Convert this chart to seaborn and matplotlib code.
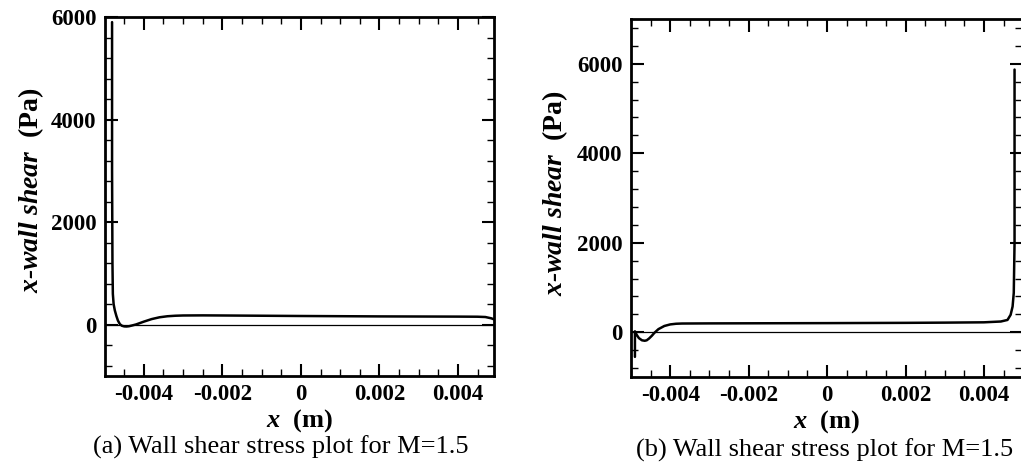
import numpy as np
import pandas as pd
import seaborn as sns
import matplotlib
matplotlib.use("Agg")
import matplotlib.pyplot as plt
from matplotlib.ticker import FixedLocator, MultipleLocator

# ---------------- data ----------------
# (a) wall shear stress, M=1.5
xa = [-0.00481, -0.00481, -0.00480, -0.00479, -0.00477, -0.00474, -0.00470, -0.00466,
      -0.00461, -0.00456, -0.00450, -0.00444, -0.00438, -0.00430, -0.00420, -0.00400,
      -0.00380, -0.00360, -0.00340, -0.00320, -0.00300, -0.00250, -0.00200, -0.00100,
      0.00000, 0.00100, 0.00200, 0.00300, 0.00400, 0.00450, 0.00470, 0.00485, 0.00492]
ya = [5900, 3000, 1200, 600, 400, 280, 170, 80,
      10, -20, -33, -35, -30, -15, 5, 60,
      110, 145, 165, 175, 180, 182, 180, 175,
      170, 166, 162, 160, 158, 156, 150, 125, 105]

# (b) wall shear stress, M=1.5
xb = [-0.00490, -0.00490, -0.00486, -0.00480, -0.00472, -0.00465, -0.00460, -0.00454,
      -0.00447, -0.00440, -0.00430, -0.00415, -0.00400, -0.00385, -0.00370, -0.00300,
      -0.00200, -0.00100, 0.00000, 0.00100, 0.00200, 0.00300, 0.00400, 0.00443,
      0.00460, 0.00468, 0.00473, 0.00476, 0.00478, 0.00478, 0.00478]
yb = [-550, 20, -50, -130, -180, -190, -180, -140,
      -80, -10, 70, 140, 175, 190, 195, 198,
      200, 202, 204, 207, 210, 215, 222, 240,
      275, 390, 575, 880, 2000, 4000, 5870]

x_tick_vals = [-0.004, -0.002, 0.0, 0.002, 0.004]
x_tick_labels = ["-0.004", "-0.002", "0", "0.002", "0.004"]
y_tick_vals = [0, 2000, 4000, 6000]
y_tick_labels = ["0", "2000", "4000", "6000"]
captions = ["(a) Wall shear stress plot for M=1.5", "(b) Wall shear stress plot for M=1.5"]

# ---------------- style ----------------
sns.set_theme(style="white")
plt.rcParams["font.family"] = ["Liberation Serif", "DejaVu Serif"]
plt.rcParams["mathtext.fontset"] = "custom"
plt.rcParams["mathtext.rm"] = "Liberation Serif:bold"
plt.rcParams["mathtext.it"] = "Liberation Serif:italic:bold"
plt.rcParams["mathtext.bf"] = "Liberation Serif:bold"

W, H = 1021, 470
fig = plt.figure(figsize=(W / 100, H / 100), dpi=100)


def box(l, t, r, b):
    return [l / W, 1 - b / H, (r - l) / W, (b - t) / H]


axa = fig.add_axes(box(105, 17, 494, 376))
axb = fig.add_axes(box(631, 19, 1022, 377))

panels = [
    (axa, xa, ya, (-0.00499, 0.00492), (-1000, 6000)),
    (axb, xb, yb, (-0.00500, 0.00497), (-1000, 7000)),
]

for ax, x, y, xlim, ylim in panels:
    df = pd.DataFrame({"x": x, "y": y})
    sns.lineplot(data=df, x="x", y="y", ax=ax, color="black", lw=1.8,
                 sort=False, estimator=None)
    ax.axhline(0, color="black", lw=0.9)
    ax.set_xlim(*xlim)
    ax.set_ylim(*ylim)
    ax.xaxis.set_major_locator(FixedLocator(x_tick_vals))
    ax.set_xticklabels(x_tick_labels)
    ax.yaxis.set_major_locator(FixedLocator(y_tick_vals))
    ax.set_yticklabels(y_tick_labels)
    ax.xaxis.set_minor_locator(MultipleLocator(0.0005))
    ax.yaxis.set_minor_locator(MultipleLocator(400))
    ax.tick_params(which="both", direction="in", top=True, right=True,
                   bottom=True, left=True,
                   labeltop=False, labelright=False,
                   labelbottom=True, labelleft=True, colors="black")
    ax.tick_params(which="major", length=9, width=1.5, pad=6, labelsize=16.5)
    ax.tick_params(which="minor", length=5, width=1.0)
    for lab in ax.get_xticklabels() + ax.get_yticklabels():
        lab.set_fontweight("bold")
    for s in ax.spines.values():
        s.set_linewidth(2.0)
        s.set_color("black")
        s.set_visible(True)
    ax.set_xlabel("")
    ax.set_ylabel("")

# axis labels and captions
lab_kw = dict(color="black", ha="center", va="center")
fig.text(300 / W, 1 - 421 / H, r"$\mathit{x}$  (m)", fontweight="bold", fontsize=19, **lab_kw)
fig.text(827 / W, 1 - 422 / H, r"$\mathit{x}$  (m)", fontweight="bold", fontsize=19, **lab_kw)
fig.text(31 / W, 1 - 190 / H, r"x-wall shear  $\mathrm{(Pa)}$", fontweight="bold",
         style="italic", rotation=90, fontsize=20, **lab_kw)
fig.text(555 / W, 1 - 193 / H, r"x-wall shear  $\mathrm{(Pa)}$", fontweight="bold",
         style="italic", rotation=90, fontsize=20, **lab_kw)
fig.text(281 / W, 1 - 447 / H, captions[0], fontsize=19, **lab_kw)
fig.text(825 / W, 1 - 450 / H, captions[1], fontsize=19, **lab_kw)

fig.savefig("out.png", dpi=100, facecolor="white")
